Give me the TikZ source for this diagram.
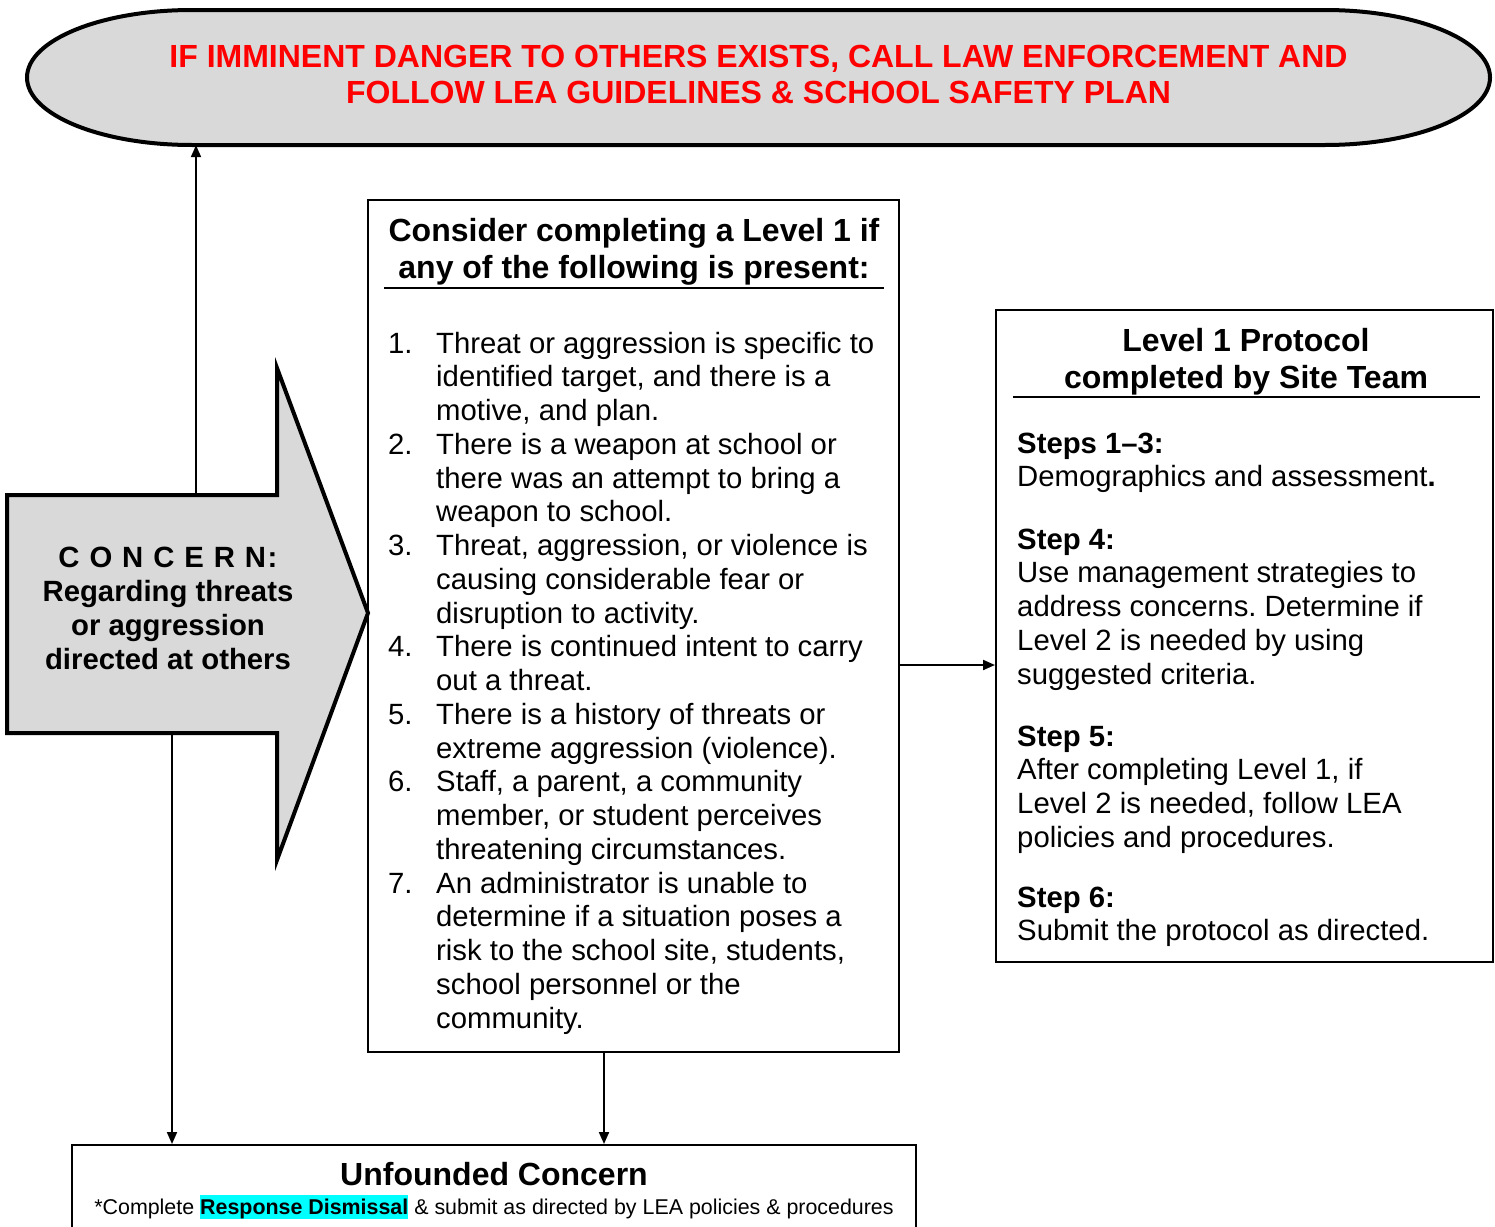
\documentclass[tikz,border=0pt]{standalone}
\usepackage{fontspec}
\setmainfont{Liberation Sans}
\usetikzlibrary{arrows.meta}
\definecolor{shade}{HTML}{D9D9D9}
\definecolor{alarm}{HTML}{FF0000}
\definecolor{hicyan}{HTML}{00FFFF}
\tikzset{
  arr/.style={-{Triangle[length=12pt,width=10pt]}, line width=2pt},
  box/.style={draw, line width=2pt, inner sep=0pt},
  blob/.style={draw, line width=4pt, fill=shade},
  big/.style={font=\fontsize{32}{37}\selectfont\bfseries, inner sep=0pt},
  txt/.style={font=\fontsize{29.3}{33.75}\selectfont, inner sep=0pt, anchor=base west},
  uline/.style={line width=2.5pt}
}
\newcommand{\hilite}[1]{{\setlength{\fboxsep}{0pt}\colorbox{hicyan}{\rule[-0.21em]{0pt}{1.12em}#1}}}
\frenchspacing

\begin{document}
\begin{tikzpicture}[x=1pt, y=-1pt]
  \path[use as bounding box, fill=white] (0,0) rectangle (1495,1226);

  % banner at the top
  \draw[blob] (192,10) -- (1325,10)
    arc[start angle=90, end angle=-90, x radius=165pt, y radius=67.5pt]
    -- (192,145)
    arc[start angle=270, end angle=90, x radius=165pt, y radius=67.5pt] -- cycle;
  \node[minimum width=1463pt, minimum height=135pt, inner sep=0pt] (danger) at (758.5,77.5) {};
  \node[big, text=alarm, anchor=base] (dangerTxt) at (758.5,67)
    {\parbox[t]{1400pt}{\centering\fontsize{32}{36}\selectfont
     IF IMMINENT DANGER TO OTHERS EXISTS, CALL LAW ENFORCEMENT AND\\
     FOLLOW LEA GUIDELINES \& SCHOOL SAFETY PLAN}};

  % concern arrow
  \draw[blob] (7,495) -- (277,495) -- (277,368) -- (368,613) -- (277,860) -- (277,733) -- (7,733) -- cycle;
  \node[inner sep=0pt, anchor=base] (concern) at (168,567)
    {\parbox[t]{260pt}{\centering\fontsize{29.3}{34}\selectfont\bfseries
     {\addfontfeature{LetterSpace=6}C O N C E R N:}\\
     Regarding threats\\or aggression\\directed at others}};
  \coordinate (cTop) at (196,495);
  \coordinate (cBot) at (172,733);

  % criteria box
  \node[box, minimum width=531pt, minimum height=852pt] (crit) at (633.5,626) {};
  \node[big, anchor=base] (critHead) at (634,241.7)
    {\parbox[t]{500pt}{\centering Consider completing a Level 1 if\\any of the following is present:}};
  \draw[uline] (384,288) -- (884,288);
  \foreach \n/\k in {1/0,2/3,3/6,4/9,5/11,6/13,7/16}
    \node[txt] (num\n) at (388,353+33.75*\k) {\n.};
  \node[txt] (critList) at (436,353)
    {\parbox[t]{460pt}{\raggedright
     Threat or aggression is specific to\\identified target, and there is a\\motive, and plan.\\
     There is a weapon at school or\\there was an attempt to bring a\\weapon to school.\\
     Threat, aggression, or violence is\\causing considerable fear or\\disruption to activity.\\
     There is continued intent to carry\\out a threat.\\
     There is a history of threats or\\extreme aggression (violence).\\
     Staff, a parent, a community\\member, or student perceives\\threatening circumstances.\\
     An administrator is unable to\\determine if a situation poses a\\risk to the school site, students,\\school personnel or the\\community.}};

  % protocol box
  \node[box, minimum width=497pt, minimum height=652pt] (proto) at (1244.5,636) {};
  \node[big, anchor=base] (protoHead) at (1246,351)
    {\parbox[t]{480pt}{\centering Level 1 Protocol\\completed by Site Team}};
  \draw[uline] (1013,397) -- (1480,397);
  \node[txt] (step13) at (1017,453)
    {\parbox[t]{470pt}{\raggedright\textbf{Steps 1--3:}\\Demographics and assessment\textbf{.}}};
  \node[txt] (step4) at (1017,549)
    {\parbox[t]{470pt}{\raggedright\textbf{Step 4:}\\Use management strategies to\\address concerns. Determine if\\Level 2 is needed by using\\suggested criteria.}};
  \node[txt] (step5) at (1017,746)
    {\parbox[t]{470pt}{\raggedright\textbf{Step 5:}\\After completing Level 1, if\\Level 2 is needed, follow LEA\\policies and procedures.}};
  \node[txt] (step6) at (1017,907)
    {\parbox[t]{470pt}{\raggedright\textbf{Step 6:}\\Submit the protocol as directed.}};

  % unfounded box
  \node[box, minimum width=844pt, minimum height=120pt, anchor=north] (unfound) at (494,1144) {};
  \node[big, anchor=base] (unfHead) at (494,1185) {Unfounded Concern};
  \node[inner sep=0pt, anchor=base, font=\fontsize{21.4}{25}\selectfont] (unfNote) at (494,1214)
    {*Complete \hilite{\textbf{Response Dismissal}} \& submit as directed by LEA policies \& procedures};

  % connectors
  \draw[arr] (cTop) -- (cTop |- danger.south);
  \draw[arr] (cBot) -- (cBot |- unfound.north);
  \draw[arr] ([yshift=-39pt]crit.east) -- ([yshift=-39pt]crit.east -| proto.west);
  \draw[arr] ([xshift=-29.5pt]crit.south) -- ([xshift=-29.5pt]crit.south |- unfound.north);
\end{tikzpicture}
\end{document}
